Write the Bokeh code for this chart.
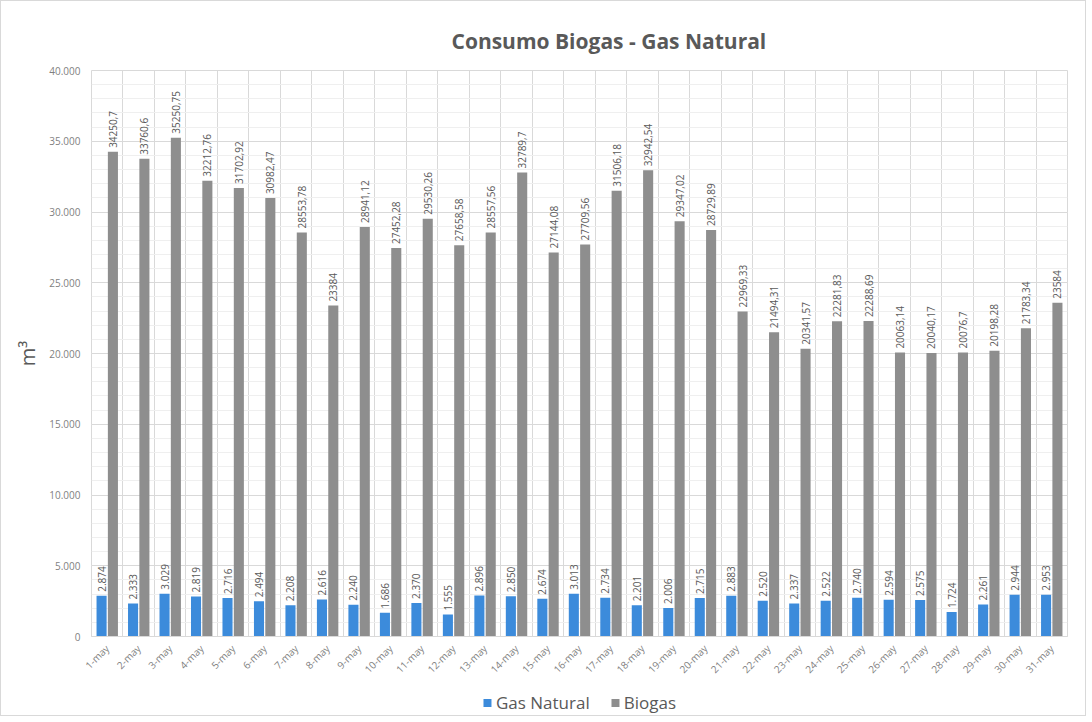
import math
from bokeh.plotting import figure
from bokeh.layouts import column
from bokeh.models import ColumnDataSource, FixedTicker, Legend, LegendItem, Range1d
from bokeh.core.properties import value
from bokeh.embed import file_html
from bokeh.resources import INLINE

days = [f"{d}-may" for d in range(1, 32)]
gas_natural = [2874, 2333, 3029, 2819, 2716, 2494, 2208, 2616, 2240, 1686, 2370, 1555, 2896, 2850,
               2674, 3013, 2734, 2201, 2006, 2715, 2883, 2520, 2337, 2522, 2740, 2594, 2575, 1724,
               2261, 2944, 2953]
biogas = [34250.7, 33760.6, 35250.75, 32212.76, 31702.92, 30982.47, 28553.78, 23384, 28941.12,
          27452.28, 29530.26, 27658.58, 28557.56, 32789.7, 27144.08, 27709.56, 31506.18, 32942.54,
          29347.02, 28729.89, 22969.33, 21494.31, 20341.57, 22281.83, 22288.69, 20063.14, 20040.17,
          20076.7, 20198.28, 21783.34, 23584]
y_ticks = [0, 5000, 10000, 15000, 20000, 25000, 30000, 35000, 40000]

FONT = "Open Sans"
BLUE = "#3c8bdb"
GRAY = "#8e8e8e"
TXT = "#595959"

idx = list(range(1, len(days) + 1))
src = ColumnDataSource(dict(
    x=idx,
    xg=[i - 0.18 for i in idx],
    xb=[i + 0.18 for i in idx],
    gas=gas_natural,
    bio=biogas,
    gas_lbl=[f"{v:,}".replace(",", ".") for v in gas_natural],
    bio_lbl=[str(v).replace(".", ",") for v in biogas],
))

p = figure(width=1084, height=688, output_backend="svg", toolbar_location=None,
           x_range=Range1d(0.5, len(days) + 0.5), y_range=Range1d(0, 40000),
           min_border_left=90, min_border_right=18, min_border_top=69, min_border_bottom=53)

p.title.text = "Consumo Biogas - Gas Natural"
p.title.align = "left"
p.title.offset = 360
p.title.text_font = FONT
p.title.text_font_size = "21px"
p.title.text_color = TXT
p.title.text_font_style = "bold"
p.title.standoff = 32

p.outline_line_color = "#d9d9d9"
p.background_fill_color = "white"

# bars
r1 = p.vbar(x="xg", top="gas", width=0.32, source=src, fill_color=BLUE, line_color=None)
r2 = p.vbar(x="xb", top="bio", width=0.32, source=src, fill_color=GRAY, line_color=None)

# data labels
p.text(x="xg", y="gas", text="gas_lbl", source=src, angle=math.pi / 2, text_align="left",
       text_baseline="middle", x_offset=0, y_offset=-4, text_font=value(FONT),
       text_font_size="10px", text_color=TXT)
p.text(x="xb", y="bio", text="bio_lbl", source=src, angle=math.pi / 2, text_align="left",
       text_baseline="middle", x_offset=0, y_offset=-4, text_font=value(FONT),
       text_font_size="10px", text_color=TXT)

# axes
p.xaxis.ticker = FixedTicker(ticks=idx)
p.xaxis.major_label_overrides = {i: d for i, d in zip(idx, days)}
p.xaxis.major_label_orientation = math.pi / 4
p.xaxis.major_label_text_font = FONT
p.xaxis.major_label_text_font_size = "10px"
p.xaxis.major_label_text_color = "#7f7f7f"
p.xaxis.major_label_standoff = 4
p.xaxis.axis_line_color = "#d9d9d9"
p.xaxis.major_tick_line_color = None
p.xaxis.minor_tick_line_color = None

p.yaxis.ticker = FixedTicker(ticks=y_ticks, minor_ticks=list(range(0, 40001, 1000)))
p.yaxis.major_label_overrides = {t: f"{t:,}".replace(",", ".") for t in y_ticks}
p.yaxis.major_label_text_font = FONT
p.yaxis.major_label_text_font_size = "10px"
p.yaxis.major_label_text_color = "#7f7f7f"
p.yaxis.axis_line_color = None
p.yaxis.major_tick_line_color = None
p.yaxis.minor_tick_line_color = None
p.yaxis.axis_label = "m³"
p.yaxis.axis_label_text_font = FONT
p.yaxis.axis_label_text_font_size = "20px"
p.yaxis.axis_label_text_font_style = "normal"
p.yaxis.axis_label_text_color = TXT
p.yaxis.axis_label_standoff = 5

# grids
p.xgrid.ticker = FixedTicker(ticks=[i + 0.5 for i in range(0, len(days) + 1)])
p.xgrid.grid_line_color = "#d9d9d9"
p.ygrid.grid_line_color = "#d9d9d9"
p.ygrid.minor_grid_line_color = "#efefef"

# legend strip below the chart (its bars lie outside its own y range, so only the legend shows)
lg = figure(width=1084, height=26, output_backend="svg", toolbar_location=None,
            x_axis_type=None, y_axis_type=None, min_border=0,
            x_range=Range1d(0.5, len(days) + 0.5), y_range=Range1d(100000, 100001))
lg.outline_line_color = None
lg.xgrid.visible = False
lg.ygrid.visible = False
l1 = lg.vbar(x="xg", top="gas", width=0.32, source=src, fill_color=BLUE, line_color=None)
l2 = lg.vbar(x="xb", top="gas", width=0.32, source=src, fill_color=GRAY, line_color=None)
legend = Legend(items=[LegendItem(label="Gas Natural", renderers=[l1]),
                       LegendItem(label="Biogas", renderers=[l2])],
                orientation="horizontal", location="center",
                label_text_font=FONT, label_text_font_size="17px", label_text_color=TXT,
                glyph_width=10, glyph_height=10, spacing=20, border_line_color=None,
                background_fill_alpha=0, padding=0, margin=0, label_standoff=4)
lg.add_layout(legend)

layout = column(p, lg, spacing=0)
layout.styles = {"border": "1px solid #d9d9d9"}

open("out.html", "w").write(file_html(layout, INLINE))
